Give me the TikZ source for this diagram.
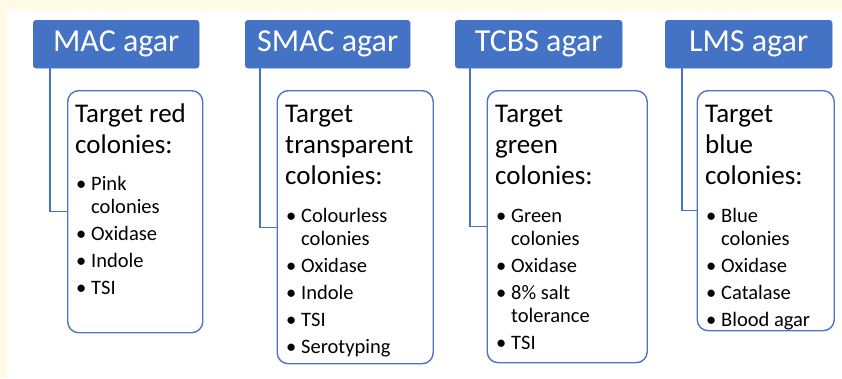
\documentclass[tikz,border=0pt]{standalone}
\usepackage{fontspec}
\setmainfont{Carlito}
\definecolor{cream}{HTML}{FEFAE6}
\definecolor{hblue}{HTML}{4472C4}
\definecolor{bblue}{HTML}{4A76C6}
\begin{document}
\begin{tikzpicture}[x=1pt,y=-1pt,
  header/.style={fill=hblue,draw=hblue,rounded corners=3pt,anchor=north west,inner sep=0pt,
    text=white,font=\fontsize{32}{36}\selectfont},
  bodybox/.style={fill=white,draw=bblue,line width=1.4pt,rounded corners=11pt,anchor=north west,inner sep=0pt},
  conn/.style={draw=hblue,line width=1.4pt},
  ttl/.style={anchor=base west,inner sep=0pt,font=\fontsize{27}{31}\selectfont},
  itm/.style={anchor=base west,inner sep=0pt,font=\fontsize{20.5}{24}\selectfont},
  bul/.style={anchor=base west,inner sep=0pt,font=\fontsize{20.5}{24}\selectfont}]
\useasboundingbox (0,0) rectangle (842,378);
\fill[cream] (0,0) rectangle (842,378);
\fill[white] (7,11) rectangle (842,378);

% headers
\node[header,minimum width=166pt,minimum height=48pt] (mac) at (33,20) {MAC agar};
\node[header,minimum width=165pt,minimum height=48pt] (smac) at (245,20) {SMAC agar};
\node[header,minimum width=167pt,minimum height=48pt] (tcbs) at (455,20) {TCBS agar};
\node[header,minimum width=167pt,minimum height=48pt] (lms) at (665,20) {LMS agar};

% boxes
\node[bodybox,minimum width=135pt,minimum height=242pt] (macb) at (67,90) {};
\node[bodybox,minimum width=156pt,minimum height=273pt] (smacb) at (276.5,90) {};
\node[bodybox,minimum width=160pt,minimum height=272pt] (tcbsb) at (486.5,90) {};
\node[bodybox,minimum width=137pt,minimum height=240pt] (lmsb) at (696.5,90) {};

% connectors
\draw[conn] ([xshift=17pt]mac.south west) |- (macb.west);
\draw[conn] ([xshift=15pt]smac.south west) |- (smacb.west);
\draw[conn] ([xshift=15pt]tcbs.south west) |- (tcbsb.west);
\draw[conn] ([xshift=17pt]lms.south west) |- (lmsb.west);

% MAC text
\node[ttl] (mact1) at (75,122) {Target red};
\node[ttl] (mact2) at (75,153) {colonies:};
\node[bul] (macd1) at (76,190) {•};
\node[itm] (maci1) at (91,190) {Pink};
\node[itm] (maci1b) at (91,213) {colonies};
\node[bul] (macd2) at (76,240) {•};
\node[itm] (maci2) at (91,240) {Oxidase};
\node[bul] (macd3) at (76,267) {•};
\node[itm] (maci3) at (91,267) {Indole};
\node[bul] (macd4) at (76,294) {•};
\node[itm] (maci4) at (91,294) {TSI};

% SMAC text
\node[ttl] (smact1) at (285,122) {Target};
\node[ttl] (smact2) at (285,153) {transparent};
\node[ttl] (smact3) at (285,184) {colonies:};
\node[bul] (smacd1) at (286,222) {•};
\node[itm] (smaci1) at (301,222) {Colourless};
\node[itm] (smaci1b) at (301,245) {colonies};
\node[bul] (smacd2) at (286,272) {•};
\node[itm] (smaci2) at (301,272) {Oxidase};
\node[bul] (smacd3) at (286,299) {•};
\node[itm] (smaci3) at (301,299) {Indole};
\node[bul] (smacd4) at (286,326) {•};
\node[itm] (smaci4) at (301,326) {TSI};
\node[bul] (smacd5) at (286,353) {•};
\node[itm] (smaci5) at (301,353) {Serotyping};

% TCBS text
\node[ttl] (tcbst1) at (495,122) {Target};
\node[ttl] (tcbst2) at (495,153) {green};
\node[ttl] (tcbst3) at (495,184) {colonies:};
\node[bul] (tcbsd1) at (496,222) {•};
\node[itm] (tcbsi1) at (511,222) {Green};
\node[itm] (tcbsi1b) at (511,245) {colonies};
\node[bul] (tcbsd2) at (496,272) {•};
\node[itm] (tcbsi2) at (511,272) {Oxidase};
\node[bul] (tcbsd3) at (496,299) {•};
\node[itm] (tcbsi3) at (511,299) {8\% salt};
\node[itm] (tcbsi3b) at (511,322) {tolerance};
\node[bul] (tcbsd4) at (496,349) {•};
\node[itm] (tcbsi4) at (511,349) {TSI};

% LMS text
\node[ttl] (lmst1) at (705,122) {Target};
\node[ttl] (lmst2) at (705,153) {blue};
\node[ttl] (lmst3) at (705,184) {colonies:};
\node[bul] (lmsd1) at (706,222) {•};
\node[itm] (lmsi1) at (721,222) {Blue};
\node[itm] (lmsi1b) at (721,245) {colonies};
\node[bul] (lmsd2) at (706,272) {•};
\node[itm] (lmsi2) at (721,272) {Oxidase};
\node[bul] (lmsd3) at (706,299) {•};
\node[itm] (lmsi3) at (721,299) {Catalase};
\node[bul] (lmsd4) at (706,326) {•};
\node[itm] (lmsi4) at (721,326) {Blood agar};
\end{tikzpicture}
\end{document}
